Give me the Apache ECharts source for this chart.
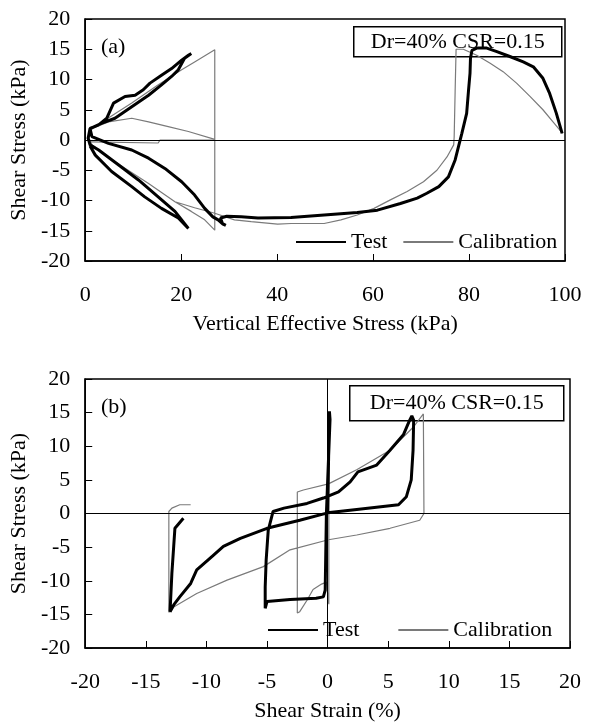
<!DOCTYPE html>
<html>
<head>
<meta charset="utf-8">
<script src="https://cdn.jsdelivr.net/npm/echarts@6.0.0/dist/echarts.min.js"></script>
<style>
  html, body { margin: 0; padding: 0; background: #fff; }
  #chart { width: 593px; height: 727px; }
</style>
</head>
<body>
<div id="chart"></div>
<script>
// (a) shear stress vs vertical effective stress, [kPa, kPa]
const stressTest = [
  [99.4, 1.1], [98.2, 4.4], [96.8, 7.7], [95.4, 10.2], [93.4, 12.1], [91.3, 12.9],
  [88.5, 13.8], [85.8, 14.6], [83.7, 15.2], [81.6, 15.2], [80.6, 14.8], [80.3, 13.5],
  [80.2, 11.0], [79.9, 8.3], [79.5, 4.4], [78.5, 1.1], [77.8, -1.1], [77.1, -3.3],
  [75.7, -6.1], [73.7, -7.7], [71.2, -8.8], [69.2, -9.6], [65.7, -10.5], [60.9, -11.6],
  [56.7, -12.0], [49.8, -12.4], [42.9, -12.8], [36.0, -12.9], [32.5, -12.7], [29.5, -12.6],
  [28.2, -12.9], [28.6, -13.8], [29.3, -14.1], [28.7, -13.9], [27.7, -13.2], [26.6, -12.7],
  [24.9, -11.3], [22.8, -9.1], [20.1, -6.9], [16.6, -4.7], [13.2, -3.0], [9.7, -1.65],
  [4.85, -0.55], [1.4, 0.55], [1.0, 1.9], [3.5, 2.8], [6.2, 3.6], [9.7, 5.5], [13.2, 7.4],
  [15.9, 9.1], [18.0, 10.5], [19.4, 11.6], [20.7, 13.5], [22.1, 14.3], [21.5, 14.0],
  [20.1, 13.2], [18.0, 11.8], [15.9, 10.7], [13.5, 9.4], [12.1, 8.3], [10.4, 7.4],
  [8.3, 7.2], [5.9, 6.1], [4.5, 3.6], [2.8, 2.5], [1.0, 1.9], [0.6, 0.3], [1.0, -0.8],
  [2.8, -1.65], [6.9, -4.1], [11.1, -6.6], [15.2, -9.4], [18.7, -11.8], [21.5, -14.6],
  [19.4, -12.9], [15.9, -11.3], [12.4, -9.4], [9.7, -7.7], [5.5, -5.2], [2.1, -2.5], [1.0, -1.0]
];
const stressCalib = [
  [99.5, 1.1], [97.5, 3.0], [95.4, 5.0], [92.7, 7.2], [89.9, 9.4], [87.1, 11.3],
  [84.4, 12.7], [81.6, 14.0], [78.8, 15.0], [77.3, 15.0], [77.1, 8.0], [76.9, 0.5],
  [76.8, -0.8], [75.4, -2.8], [73.3, -5.0], [70.5, -6.9], [67.1, -8.5], [63.6, -9.9],
  [60.2, -11.3], [56.7, -12.4], [53.3, -13.2], [49.8, -13.8], [42.9, -13.8], [40.1, -13.9],
  [34.6, -13.5], [31.1, -13.2], [27.0, -12.1], [22.8, -11.2], [18.7, -10.2], [13.2, -7.2],
  [6.2, -3.6], [1.4, -0.8], [0.8, 0.3], [1.4, 1.9], [9.7, 6.1], [15.0, 9.0], [20.1, 11.6],
  [22.8, 12.9], [27.0, 14.9], [27.0, -14.9], [24.9, -13.2], [22.1, -11.8], [18.7, -10.2]
];
const stressCalibDome = [
  [27.0, 0.1], [21.5, 1.4], [17.3, 2.2], [13.2, 3.0], [9.7, 3.6], [4.85, 3.0], [1.4, 1.9]
];
const stressCalibFlat = [
  [1.0, -0.3], [15.2, -0.5], [15.6, 0.0], [27.0, 0.0]
];

// (b) shear stress vs shear strain, [%, kPa]
const strainTest = [
  [0.0, 0.0], [0.15, 15.2], [0.2, 14.0], [-0.1, 0.0], [-0.2, -11.4], [-0.35, -12.4],
  [-0.95, -12.6], [-3.1, -12.8], [-5.0, -13.1], [-5.15, -14.1], [-5.15, -10.9], [-5.07, -6.9],
  [-4.9, -2.5], [-4.5, 0.3], [-3.6, 0.8], [-1.7, 1.5], [-0.35, 2.3], [0.9, 3.2], [1.86, 4.7],
  [2.5, 6.2], [4.05, 7.2], [5.15, 9.4], [6.25, 11.7], [6.7, 13.6], [6.95, 14.5], [7.1, 13.9],
  [7.05, 9.4], [6.9, 5.0], [6.5, 2.5], [5.85, 1.3], [2.4, 0.6], [0.0, 0.1], [-2.3, -1.0],
  [-5.0, -2.2], [-7.2, -3.7], [-8.6, -4.9], [-9.55, -6.4], [-10.8, -8.4], [-11.3, -10.4],
  [-12.2, -12.4], [-12.7, -13.6], [-13.0, -14.6], [-12.85, -8.9], [-12.7, -4.9],
  [-12.6, -2.2], [-11.9, -0.7]
];
const strainCalib = [
  [0.0, 0.0], [0.1, 15.0], [0.1, -13.5], [-0.1, -10.2], [-0.5, -10.5], [-1.2, -11.3],
  [-1.7, -12.9], [-2.3, -14.6], [-2.5, -14.8], [-2.5, 3.2], [-2.0, 3.5], [0.07, 4.4],
  [2.4, 6.5], [5.15, 9.4], [7.1, 12.9], [7.9, 14.8], [7.95, 0.0], [7.6, -1.0], [5.15, -2.2],
  [2.4, -3.2], [0.07, -3.9], [-3.1, -5.4], [-5.3, -7.9], [-8.3, -9.9], [-10.8, -11.9],
  [-12.7, -13.9], [-13.1, -14.7], [-13.1, 0.3], [-12.85, 0.8], [-12.2, 1.3], [-11.3, 1.3]
];

const boxLabel = 'Dr=40% CSR=0.15';
const font = "'Liberation Serif', serif";

const axisText = { color: '#000', fontFamily: font, fontSize: 22 };

function xAxisFor(gridIndex, min, max, interval, name) {
  return {
    type: 'value', gridIndex, min, max, interval,
    name, nameLocation: 'middle', nameGap: 52,
    nameTextStyle: axisText,
    axisLine: { onZero: false, lineStyle: { color: '#000', width: 1.5 } },
    axisTick: { inside: true, length: 7, lineStyle: { color: '#000', width: 1 } },
    axisLabel: { ...axisText, margin: 23 },
    splitLine: { show: false }
  };
}

function yAxisFor(gridIndex) {
  return {
    type: 'value', gridIndex, min: -20, max: 20, interval: 5,
    name: 'Shear Stress (kPa)', nameLocation: 'middle', nameGap: 44,
    nameTextStyle: axisText,
    axisLine: { onZero: false, lineStyle: { color: '#000', width: 1.5 } },
    axisTick: { inside: true, length: 7, lineStyle: { color: '#000', width: 1 } },
    axisLabel: { ...axisText, margin: 15 },
    splitLine: { show: false }
  };
}

function testSeries(idx, data) {
  return {
    name: 'Test', type: 'line', xAxisIndex: idx, yAxisIndex: idx, data,
    symbol: 'none', z: 4,
    lineStyle: { color: '#000', width: 3 }, itemStyle: { color: '#000' }
  };
}

function calibSeries(idx, data, markLine) {
  return {
    name: 'Calibration', type: 'line', xAxisIndex: idx, yAxisIndex: idx, data,
    symbol: 'none', z: 3,
    lineStyle: { color: '#7a7a7a', width: 1.2 }, itemStyle: { color: '#7a7a7a' },
    markLine
  };
}

function zeroLines(items) {
  return {
    silent: true, symbol: 'none', label: { show: false },
    lineStyle: { color: '#000', width: 1, type: 'solid' },
    data: items
  };
}

function boxGraphic(x, y, w, h) {
  return {
    type: 'group', left: x, top: y, z: 1,
    children: [
      { type: 'rect', shape: { x: 0, y: 0, width: w, height: h },
        style: { fill: '#fff', stroke: '#000', lineWidth: 1.5 } },
      { type: 'text', x: w / 2, y: h / 2,
        style: { text: boxLabel, fill: '#000', font: '22px ' + font, align: 'center', verticalAlign: 'middle' } }
    ]
  };
}

function legendFor(left, top, gap) {
  return {
    left, top, itemWidth: 50, itemHeight: 14, itemGap: gap,
    textStyle: axisText, data: ['Test', 'Calibration'], selectedMode: false,
    itemStyle: { opacity: 0 }
  };
}

const chart = echarts.init(document.getElementById('chart'), null, { renderer: 'canvas' });

chart.setOption({
  backgroundColor: '#fff',
  animation: false,
  grid: [
    { left: 83, top: 19, width: 482, height: 242, show: true, borderColor: '#000', borderWidth: 1.5 },
    { left: 85, top: 379, width: 485, height: 269, show: true, borderColor: '#000', borderWidth: 1.5 }
  ],
  xAxis: [
    xAxisFor(0, 0, 100, 20, 'Vertical Effective Stress (kPa)'),
    xAxisFor(1, -20, 20, 5, 'Shear Strain (%)')
  ],
  yAxis: [yAxisFor(0), yAxisFor(1)],
  legend: [legendFor(290, 226, 15), legendFor(262, 614, 38)],
  graphic: [
    boxGraphic(353, 26, 208, 30),
    boxGraphic(349, 385, 214, 35),
    { type: 'text', left: 101, top: 36, style: { text: '(a)', fill: '#000', font: '22px ' + font } },
    { type: 'text', left: 101, top: 396, style: { text: '(b)', fill: '#000', font: '22px ' + font } }
  ],
  series: [
    calibSeries(0, stressCalib, zeroLines([{ yAxis: 0 }])),
    calibSeries(0, stressCalibDome),
    calibSeries(0, stressCalibFlat),
    testSeries(0, stressTest),
    calibSeries(1, strainCalib, zeroLines([{ yAxis: 0 }, { xAxis: 0 }])),
    testSeries(1, strainTest)
  ]
});
</script>
</body>
</html>
